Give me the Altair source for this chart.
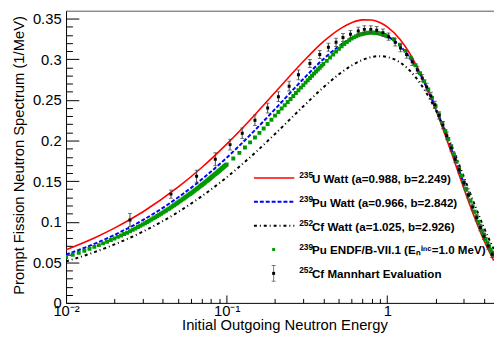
import altair as alt
import pandas as pd

FONT = "Liberation Sans"
W, H = 435, 297

# ---- Watt spectra ----
watt_energy = [0.01, 0.015, 0.02, 0.03, 0.05, 0.07, 0.1, 0.15, 0.2, 0.3, 0.4, 0.5, 0.6,
               0.7, 0.8, 0.9, 1.0, 1.2, 1.5, 2.0, 2.5, 3.0, 3.5, 4.0, 4.6]
u235_watt = [0.0655, 0.0800, 0.0921, 0.1120, 0.1428, 0.1668, 0.1956, 0.2319, 0.2593, 0.2975,
             0.3218, 0.3367, 0.3452, 0.3487, 0.3485, 0.3454, 0.3401, 0.3247, 0.2946, 0.2386,
             0.1858, 0.1409, 0.1048, 0.0768, 0.0520]
pu239_watt = [0.0595, 0.0727, 0.0837, 0.1019, 0.1301, 0.1522, 0.1788, 0.2128, 0.2387, 0.2758,
              0.3003, 0.3162, 0.3261, 0.3313, 0.3330, 0.3318, 0.3284, 0.3167, 0.2913, 0.2408,
              0.1908, 0.1470, 0.1108, 0.0821, 0.0564]
cf252_watt = [0.0511, 0.0625, 0.0720, 0.0877, 0.1121, 0.1314, 0.1547, 0.1848, 0.2081, 0.2421,
              0.2655, 0.2816, 0.2925, 0.2993, 0.3029, 0.3040, 0.3030, 0.2963, 0.2782, 0.2379,
              0.1950, 0.1553, 0.1210, 0.0927, 0.0662]

# ---- 239Pu ENDF/B-VII.1 points ----
endf_energy = [
    0.010, 0.011, 0.012, 0.013, 0.014, 0.015, 0.016, 0.017, 0.018, 0.019,
    0.020, 0.021, 0.022, 0.023, 0.024, 0.025, 0.026, 0.027, 0.028, 0.029,
    0.030, 0.031, 0.032, 0.033, 0.034, 0.035, 0.036, 0.037, 0.038, 0.039,
    0.040, 0.041, 0.042, 0.043, 0.044, 0.045, 0.046, 0.047, 0.048, 0.049,
    0.050, 0.051, 0.052, 0.053, 0.054, 0.055, 0.056, 0.057, 0.058, 0.059,
    0.060, 0.061, 0.062, 0.063, 0.064, 0.065, 0.066, 0.067, 0.068, 0.069,
    0.070, 0.071, 0.072, 0.073, 0.074, 0.075, 0.076, 0.077, 0.078, 0.079,
    0.080, 0.081, 0.082, 0.083, 0.084, 0.085, 0.086, 0.087, 0.088, 0.089,
    0.090, 0.091, 0.092, 0.093, 0.094, 0.095, 0.096, 0.097, 0.098, 0.099,
    0.10, 0.11, 0.12, 0.13, 0.14, 0.15, 0.16, 0.17, 0.18, 0.19,
    0.20, 0.21, 0.22, 0.23, 0.24, 0.25, 0.26, 0.27, 0.28, 0.29,
    0.30, 0.31, 0.32, 0.33, 0.34, 0.35, 0.36, 0.37, 0.38, 0.39, 0.40,
    0.42, 0.44, 0.46, 0.48, 0.50, 0.52, 0.54, 0.56, 0.58, 0.60,
    0.62, 0.64, 0.66, 0.68, 0.70, 0.72, 0.74, 0.76, 0.78, 0.80,
    0.82, 0.84, 0.86, 0.88, 0.90, 0.92, 0.94, 0.96, 0.98, 1.00,
    1.1, 1.2, 1.3, 1.4, 1.5, 1.6, 1.7, 1.8, 1.9, 2.0, 2.1, 2.2, 2.3, 2.4, 2.5, 2.6, 2.7, 2.8,
    2.9, 3.0, 3.1, 3.2, 3.3, 3.4, 3.5, 3.6, 3.7, 3.8, 3.9, 4.0, 4.1, 4.2, 4.3, 4.4, 4.5, 4.6]
endf_pfns = [
    0.0565, 0.0593, 0.0618, 0.0643, 0.0666, 0.0690, 0.0712, 0.0733, 0.0754, 0.0774,
    0.0794, 0.0813, 0.0831, 0.0849, 0.0865, 0.0883, 0.0900, 0.0917, 0.0934, 0.0950,
    0.0966, 0.0982, 0.0997, 0.1012, 0.1027, 0.1042, 0.1056, 0.1071, 0.1085, 0.1099,
    0.1112, 0.1126, 0.1139, 0.1152, 0.1164, 0.1177, 0.1190, 0.1203, 0.1215, 0.1228,
    0.1240, 0.1252, 0.1263, 0.1275, 0.1286, 0.1298, 0.1309, 0.1320, 0.1331, 0.1341,
    0.1351, 0.1361, 0.1372, 0.1382, 0.1392, 0.1403, 0.1413, 0.1423, 0.1433, 0.1443,
    0.1453, 0.1462, 0.1472, 0.1481, 0.1491, 0.1500, 0.1509, 0.1518, 0.1527, 0.1536,
    0.1545, 0.1554, 0.1563, 0.1571, 0.1580, 0.1588, 0.1596, 0.1604, 0.1612, 0.1621,
    0.1629, 0.1637, 0.1645, 0.1653, 0.1661, 0.1669, 0.1677, 0.1685, 0.1692, 0.1700,
    0.1706, 0.1779, 0.1848, 0.1914, 0.1978, 0.2038, 0.2095, 0.2149, 0.2204, 0.2257,
    0.2307, 0.2352, 0.2395, 0.2436, 0.2475, 0.2513, 0.2550, 0.2585, 0.2619, 0.2652,
    0.2683, 0.2714, 0.2744, 0.2771, 0.2798, 0.2825, 0.2851, 0.2875, 0.2898, 0.2920, 0.2943,
    0.2982, 0.3023, 0.3061, 0.3096, 0.3132, 0.3162, 0.3189, 0.3214, 0.3236, 0.3256,
    0.3271, 0.3286, 0.3297, 0.3306, 0.3313, 0.3320, 0.3324, 0.3328, 0.3330, 0.3330,
    0.3329, 0.3328, 0.3326, 0.3323, 0.3318, 0.3313, 0.3308, 0.3301, 0.3293, 0.3284,
    0.3248, 0.3182, 0.3105, 0.3020, 0.2928, 0.2831, 0.2731, 0.2629, 0.2526, 0.2423, 0.2320,
    0.2218, 0.2118, 0.2019, 0.1923, 0.1830, 0.1739, 0.1651, 0.1566, 0.1485, 0.1406, 0.1331,
    0.1258, 0.1189, 0.1123, 0.1060, 0.1000, 0.0942, 0.0888, 0.0836, 0.0787, 0.0741, 0.0697,
    0.0655, 0.0616, 0.0579]

# ---- 252Cf Mannhart evaluation ----
mannhart_energy = [0.025, 0.045, 0.065, 0.085, 0.105, 0.125, 0.15, 0.18, 0.21, 0.245, 0.28,
                   0.33, 0.38, 0.43, 0.48, 0.53, 0.59, 0.66, 0.72, 0.79, 0.86, 0.94, 1.02,
                   1.12, 1.21, 1.32, 1.43, 1.54, 1.65, 1.76, 1.87, 1.98, 2.1, 2.22, 2.35,
                   2.5, 2.65, 2.8, 3.0, 3.2, 3.4, 3.6, 3.8, 4.0, 4.25, 4.5]
mannhart_pfns = [0.102, 0.134, 0.156, 0.177, 0.195, 0.209, 0.225, 0.240, 0.254, 0.267, 0.281,
                 0.295, 0.306, 0.315, 0.321, 0.327, 0.331, 0.335, 0.337, 0.337, 0.336, 0.333,
                 0.328, 0.321, 0.314, 0.306, 0.297, 0.287, 0.277, 0.266, 0.255, 0.244, 0.231,
                 0.219, 0.206, 0.191, 0.177, 0.164, 0.148, 0.133, 0.118, 0.105, 0.093, 0.082,
                 0.070, 0.060]
mannhart_error = [0.008, 0.005, 0.0075, 0.008, 0.0065, 0.0065, 0.0065, 0.006, 0.006, 0.006,
                  0.006, 0.005, 0.005, 0.005, 0.005, 0.005, 0.0045, 0.0045, 0.0045, 0.0045,
                  0.0045, 0.0045, 0.0045, 0.0045, 0.0045, 0.0045, 0.0045, 0.0045, 0.0045,
                  0.0045, 0.0045, 0.0045, 0.0045, 0.0045, 0.0045, 0.004, 0.004, 0.004, 0.004,
                  0.004, 0.004, 0.004, 0.004, 0.004, 0.004, 0.004]

# ---- axes ticks / labels ----
x_major = [0.01, 0.1, 1]
x_minor = [0.02, 0.03, 0.04, 0.05, 0.06, 0.07, 0.08, 0.09,
           0.2, 0.3, 0.4, 0.5, 0.6, 0.7, 0.8, 0.9, 2, 3, 4]
y_major = [0, 0.05, 0.1, 0.15, 0.2, 0.25, 0.3, 0.35]
y_minor = [round(i * 0.01, 2) for i in range(1, 36) if i % 5]

legend_mass = ["235", "239", "252", "239", "252"]
legend_text = ["U Watt (a=0.988, b=2.249)",
               "Pu Watt (a=0.966, b=2.842)",
               "Cf Watt (a=1.025, b=2.926)",
               "Pu ENDF/B-VII.1 (Eₙⁱⁿᶜ=1.0 MeV)",
               "Cf Mannhart Evaluation"]

RED, BLUE, BLACK, GREEN, BAR = "#ff0000", "#0000ff", "#000000", "#009a00", "#444444"

watt_df = pd.DataFrame({"E": watt_energy, "u": u235_watt, "pu": pu239_watt, "cf": cf252_watt})
endf_df = pd.DataFrame({"E": endf_energy, "v": endf_pfns})
mann_df = pd.DataFrame({"E": mannhart_energy, "v": mannhart_pfns, "err": mannhart_error})
mann_df["lo"] = mann_df["v"] - mann_df["err"]
mann_df["hi"] = mann_df["v"] + mann_df["err"]
legend_df = pd.DataFrame({"row": list(range(len(legend_text))), "mass": legend_mass,
                          "label": legend_text})

xscale = alt.Scale(type="log", domain=[0.01, 4.62], nice=False)
yscale = alt.Scale(domain=[0, 0.36], nice=False, zero=False)

label_expr = "datum.value < 0.05 ? '10⁻²' : (datum.value < 0.5 ? '10⁻¹' : '1')"

ax_x_main = alt.Axis(values=x_major, labelExpr=label_expr, ticks=False, domain=True,
                     domainColor="black", domainWidth=1, grid=False, labelFlush=False,
                     labelOverlap=False, labelFontSize=15, labelPadding=1,
                     title="Initial Outgoing Neutron Energy", titleFontSize=15,
                     titleX=222, titleY=27, titleBaseline="alphabetic", titleAlign="center")
ax_y_main = alt.Axis(values=y_major, format="~g", ticks=False, domain=True,
                     domainColor="black", domainWidth=1, grid=False, labelFlush=False,
                     labelOverlap=False, labelFontSize=15, labelPadding=5,
                     title="Prompt Fission Neutron Spectrum (1/MeV)", titleFontSize=15,
                     titleX=-43, titleY=5, titleAlign="right", titleBaseline="alphabetic")
ax_x_major_ticks = alt.Axis(orient="top", offset=-H, values=x_major, labels=False, domain=False,
                            tickSize=8, tickColor="black", grid=False, title=None)
ax_x_minor_ticks = alt.Axis(orient="top", offset=-H, values=x_minor, labels=False, domain=False,
                            tickSize=4.5, tickColor="black", grid=False, title=None)
ax_y_major_ticks = alt.Axis(orient="right", offset=-W, values=y_major, labels=False, domain=False,
                            tickSize=13, tickColor="black", grid=False, title=None)
ax_y_minor_ticks = alt.Axis(orient="right", offset=-W, values=y_minor, labels=False, domain=False,
                            tickSize=6.5, tickColor="black", grid=False, title=None)
ax_x_top = alt.Axis(orient="top", values=[0.01], labels=False, ticks=False, domain=True,
                    domainColor="#555555", grid=False, title=None)

base_w = alt.Chart(watt_df)
u_line = base_w.mark_line(color=RED, strokeWidth=1.6, interpolate="monotone", clip=True).encode(
    x=alt.X("E:Q", scale=xscale, axis=ax_x_main),
    y=alt.Y("u:Q", scale=yscale, axis=ax_y_main))
pu_line = base_w.mark_line(color=BLUE, strokeWidth=2, strokeDash=[4, 2],
                           interpolate="monotone", clip=True).encode(
    x=alt.X("E:Q", scale=xscale, axis=ax_x_major_ticks),
    y=alt.Y("pu:Q", scale=yscale, axis=ax_y_major_ticks))
cf_line = base_w.mark_line(color=BLACK, strokeWidth=2, strokeDash=[3, 3, 1, 3],
                           interpolate="monotone", clip=True).encode(
    x=alt.X("E:Q", scale=xscale, axis=ax_x_minor_ticks),
    y=alt.Y("cf:Q", scale=yscale, axis=ax_y_minor_ticks))
endf_pts = alt.Chart(endf_df).mark_square(color=GREEN, size=16, opacity=1, clip=True).encode(
    x=alt.X("E:Q", scale=xscale, axis=ax_x_top),
    y=alt.Y("v:Q", scale=yscale, axis=None))

base_m = alt.Chart(mann_df)
m_bar = base_m.mark_rule(color=BAR, strokeWidth=1, clip=True).encode(
    x=alt.X("E:Q", scale=xscale, axis=None),
    y=alt.Y("lo:Q", scale=yscale, axis=None), y2="hi:Q")
m_caps = base_m.transform_fold(["lo", "hi"], as_=["k", "yv"]).mark_tick(
    orient="horizontal", size=4, thickness=1, color=BAR, clip=True).encode(
    x=alt.X("E:Q", scale=xscale, axis=None),
    y=alt.Y("yv:Q", scale=yscale, axis=None))
m_pts = base_m.mark_square(color=BLACK, size=9, opacity=1, clip=True).encode(
    x=alt.X("E:Q", scale=xscale, axis=None),
    y=alt.Y("v:Q", scale=yscale, axis=None))

main = alt.layer(u_line, pu_line, cf_line, endf_pts, m_bar, m_caps, m_pts).resolve_axis(
    x="independent", y="independent")

# ---- legend ----
leg_y = alt.Y("row:Q", scale=alt.Scale(domain=[0, 4], range=[170, 267]), axis=None)
base_l = alt.Chart(legend_df)
leg_u = base_l.transform_filter("datum.row == 0").mark_rule(color=RED, strokeWidth=1.6).encode(
    x=alt.value(191), x2=alt.value(232), y=leg_y)
leg_pu = base_l.transform_filter("datum.row == 1").mark_rule(
    color=BLUE, strokeWidth=2, strokeDash=[4, 2]).encode(x=alt.value(191), x2=alt.value(232), y=leg_y)
leg_cf = base_l.transform_filter("datum.row == 2").mark_rule(
    color=BLACK, strokeWidth=2, strokeDash=[3, 3, 1, 3]).encode(x=alt.value(191), x2=alt.value(232), y=leg_y)
leg_endf = base_l.transform_filter("datum.row == 3").mark_square(
    color=GREEN, size=9, opacity=1).encode(x=alt.value(211), y=leg_y)
leg_mbar = base_l.transform_filter("datum.row == 4").mark_tick(
    orient="vertical", size=16, thickness=1, color=BAR).encode(x=alt.value(211), y=leg_y)
leg_mcap_top = base_l.transform_filter("datum.row == 4").mark_tick(
    orient="horizontal", size=4, thickness=1, color=BAR).encode(
    x=alt.value(211), y=leg_y, yOffset=alt.value(-8))
leg_mcap_bot = base_l.transform_filter("datum.row == 4").mark_tick(
    orient="horizontal", size=4, thickness=1, color=BAR).encode(
    x=alt.value(211), y=leg_y, yOffset=alt.value(8))
leg_mpt = base_l.transform_filter("datum.row == 4").mark_square(
    color=BLACK, size=9, opacity=1).encode(x=alt.value(211), y=leg_y)
leg_mass = base_l.mark_text(align="left", baseline="alphabetic", font=FONT, fontSize=8.5,
                            fontWeight="bold", color="black", dy=0).encode(
    x=alt.value(237), y=leg_y, text="mass:N")
leg_text = base_l.mark_text(align="left", baseline="alphabetic", font=FONT, fontSize=11.8,
                            fontWeight="bold", color="black", dy=5).encode(
    x=alt.value(250), y=leg_y, text="label:N")

legend = alt.layer(leg_u, leg_pu, leg_cf, leg_endf, leg_mbar, leg_mcap_top, leg_mcap_bot,
                   leg_mpt, leg_mass, leg_text)

chart = alt.layer(main, legend).resolve_scale(y="independent").properties(
    width=W, height=H,
    autosize=alt.AutoSizeParams(type="none"),
    padding={"left": 59, "top": 0, "right": 0, "bottom": 36},
    background="white",
).configure_view(strokeWidth=0).configure_axis(
    labelFont=FONT, titleFont=FONT, labelColor="black", titleColor="black",
    titleFontWeight="normal")

chart.save("out.html", embed_options={"renderer": "svg", "actions": False})
